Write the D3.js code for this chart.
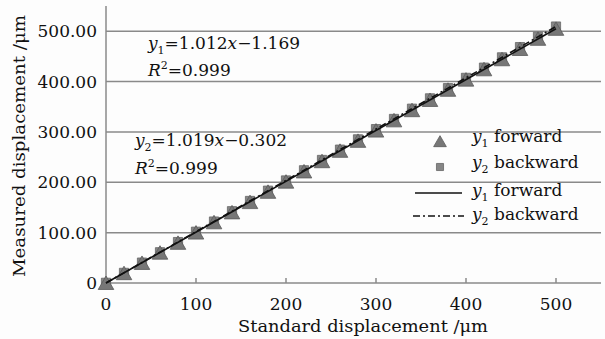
<!DOCTYPE html>
<html>
<head>
<meta charset="utf-8">
<script src="https://cdn.jsdelivr.net/npm/d3@7"></script>
<style>
  body { margin: 0; background: #fdfdfd; }
  svg text { font-family: "DejaVu Serif", serif; fill: #111; }
</style>
</head>
<body>
<div id="chart"></div>
<script>
// Standard displacement (um)
const standard = [0, 20, 40, 60, 80, 100, 120, 140, 160, 180, 200, 220, 240,
  260, 280, 300, 320, 340, 360, 380, 400, 420, 440, 460, 480, 500];
// y1 forward measured
const forward = [0, 19.5, 39.8, 60.2, 79.7, 100.1, 120.5, 140.2, 160.6, 181.0,
  201.2, 221.5, 241.8, 262.4, 282.2, 302.6, 322.9, 343.1, 363.4, 383.6,
  403.8, 424.3, 444.2, 464.6, 484.8, 504.6];
// y2 backward measured
const backward = [0.4, 20.1, 40.5, 61.0, 81.3, 101.8, 122.0, 142.5, 162.9, 183.3,
  203.6, 223.8, 244.3, 264.8, 285.2, 305.5, 325.7, 346.1, 366.6, 386.9,
  407.3, 427.6, 448.0, 468.4, 488.8, 509.2];
// fitted lines: slope, intercept
const fitForward = [1.012, -1.169];
const fitBackward = [1.019, -0.302];

const yTicks = [0, 100, 200, 300, 400, 500];
const xTicks = [0, 100, 200, 300, 400, 500];

const width = 605, height = 339;

const svg = d3.select("#chart").append("svg")
  .attr("width", width)
  .attr("height", height);

const x = d3.scaleLinear().domain([0, 550]).range([106, 601]);
const y = d3.scaleLinear().domain([0, 550]).range([283, 6]);

// gridlines
svg.append("g")
  .selectAll("line")
  .data(yTicks.filter(d => d > 0))
  .join("line")
  .attr("x1", x(0)).attr("x2", x(550))
  .attr("y1", d => y(d)).attr("y2", d => y(d))
  .attr("stroke", "#8a8a8a").attr("stroke-width", 1.5);

// axes lines
svg.append("line")
  .attr("x1", x(0)).attr("x2", x(0))
  .attr("y1", y(0)).attr("y2", y(550))
  .attr("stroke", "#8a8a8a").attr("stroke-width", 1.5);
svg.append("line")
  .attr("x1", x(0)).attr("x2", x(550))
  .attr("y1", y(0)).attr("y2", y(0))
  .attr("stroke", "#8a8a8a").attr("stroke-width", 1.5);

// x ticks (inward)
svg.append("g")
  .selectAll("line")
  .data(xTicks.filter(d => d > 0))
  .join("line")
  .attr("x1", d => x(d)).attr("x2", d => x(d))
  .attr("y1", y(0)).attr("y2", y(0) - 5)
  .attr("stroke", "#8a8a8a").attr("stroke-width", 1.5);

// tick labels
svg.append("g")
  .selectAll("text")
  .data(yTicks)
  .join("text")
  .attr("x", 97)
  .attr("y", d => y(d))
  .attr("dy", "0.36em")
  .attr("text-anchor", "end")
  .style("font-size", "17px")
  .text(d => d === 0 ? "0" : d3.format(".2f")(d));

svg.append("g")
  .selectAll("text")
  .data(xTicks)
  .join("text")
  .attr("x", d => x(d))
  .attr("y", 310)
  .attr("text-anchor", "middle")
  .style("font-size", "17px")
  .text(d => d);

// axis titles
svg.append("text")
  .attr("x", 363).attr("y", 332)
  .attr("text-anchor", "middle")
  .style("font-size", "17px")
  .attr("textLength", 250)
  .attr("lengthAdjust", "spacingAndGlyphs")
  .text("Standard displacement /μm");

svg.append("text")
  .attr("transform", "translate(25,146) rotate(-90)")
  .attr("text-anchor", "middle")
  .style("font-size", "17px")
  .attr("textLength", 262)
  .attr("lengthAdjust", "spacingAndGlyphs")
  .text("Measured displacement /μm");

// markers
const tri = d3.symbol().type(d3.symbolTriangle).size(105);
const sq = d3.symbol().type(d3.symbolSquare).size(85);

svg.append("g")
  .selectAll("path")
  .data(standard.map((s, i) => [s, backward[i]]))
  .join("path")
  .attr("d", sq)
  .attr("transform", d => `translate(${x(d[0])},${y(d[1])})`)
  .attr("fill", "#868686")
  .attr("stroke", "#666").attr("stroke-width", 0.8);

svg.append("g")
  .selectAll("path")
  .data(standard.map((s, i) => [s, forward[i]]))
  .join("path")
  .attr("d", tri)
  .attr("transform", d => `translate(${x(d[0])},${y(d[1]) + 2})`)
  .attr("fill", "#777")
  .attr("stroke", "#5a5a5a").attr("stroke-width", 0.8);

// fit lines
const ends = [0, 500];
const line = d3.line().x(d => x(d[0])).y(d => y(d[1]));
svg.append("path")
  .datum(ends.map(s => [s, Math.max(0, fitBackward[0] * s + fitBackward[1])]))
  .attr("d", line)
  .attr("fill", "none").attr("stroke", "#111").attr("stroke-width", 1.6)
  .attr("stroke-dasharray", "7,3,2,3");
svg.append("path")
  .datum(ends.map(s => [s, Math.max(0, fitForward[0] * s + fitForward[1])]))
  .attr("d", line)
  .attr("fill", "none").attr("stroke", "#111").attr("stroke-width", 1.6);

// equation annotations
function equation(xp, yp, sub, a, b) {
  const t = svg.append("text").attr("x", xp).attr("y", yp).style("font-size", "17px");
  t.append("tspan").style("font-style", "italic").text("y");
  t.append("tspan").attr("dy", 5).style("font-size", "11px").text(sub);
  t.append("tspan").attr("dy", -5).text("=" + a);
  t.append("tspan").style("font-style", "italic").text("x");
  t.append("tspan").text("−" + b);
}
function rsq(xp, yp, v) {
  const t = svg.append("text").attr("x", xp).attr("y", yp).style("font-size", "17px");
  t.append("tspan").style("font-style", "italic").text("R");
  t.append("tspan").attr("dy", -7).style("font-size", "11px").text("2");
  t.append("tspan").attr("dy", 7).text("=" + v);
}
equation(148, 49, "1", "1.012", "1.169");
rsq(148, 76, "0.999");
equation(135, 146, "2", "1.019", "0.302");
rsq(135, 174, "0.999");

// legend
const legendText = (xp, yp, sub, label) => {
  const t = svg.append("text").attr("x", xp).attr("y", yp).style("font-size", "17px");
  t.append("tspan").style("font-style", "italic").text("y");
  t.append("tspan").attr("dy", 5).style("font-size", "11px").text(sub);
  t.append("tspan").attr("dy", -5).text(" " + label);
};
svg.append("path").attr("d", d3.symbol().type(d3.symbolTriangle).size(70)).attr("transform", "translate(440,143)")
  .attr("fill", "#777").attr("stroke", "#5a5a5a").attr("stroke-width", 0.8);
legendText(472, 142, "1", "forward");
svg.append("path").attr("d", d3.symbol().type(d3.symbolSquare).size(50)).attr("transform", "translate(440,167)")
  .attr("fill", "#868686").attr("stroke", "#666").attr("stroke-width", 0.8);
legendText(472, 168, "2", "backward");
svg.append("line").attr("x1", 415).attr("x2", 462).attr("y1", 193).attr("y2", 193)
  .attr("stroke", "#111").attr("stroke-width", 1.6);
legendText(472, 196, "1", "forward");
svg.append("line").attr("x1", 413).attr("x2", 464).attr("y1", 216).attr("y2", 216)
  .attr("stroke", "#111").attr("stroke-width", 1.6).attr("stroke-dasharray", "7,3,2,3");
legendText(472, 220, "2", "backward");
</script>
</body>
</html>
